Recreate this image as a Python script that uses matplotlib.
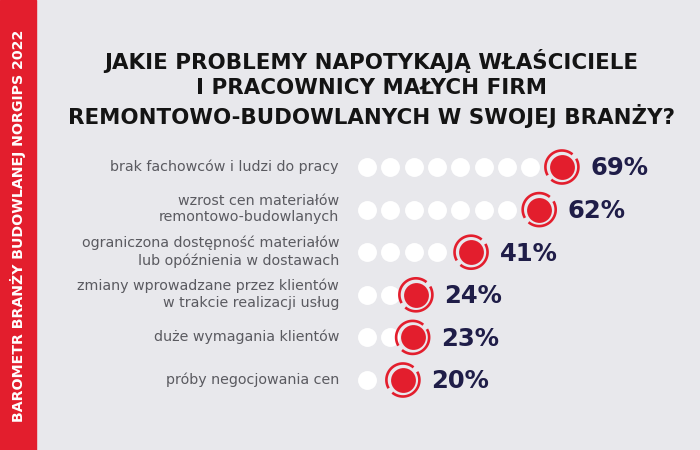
import numpy as np
import matplotlib.pyplot as plt
from matplotlib.patches import Rectangle

# ---------------------------------------------------------------------------
# Data
# ---------------------------------------------------------------------------

TITLE_LINES = [
    "JAKIE PROBLEMY NAPOTYKAJĄ WŁAŚCICIELE",
    "I PRACOWNICY MAŁYCH FIRM",
    "REMONTOWO-BUDOWLANYCH W SWOJEJ BRANŻY?",
]
SIDEBAR = "BAROMETR BRANŻY BUDOWLANEJ NORGIPS 2022"

labels = [
    "brak fachowców i ludzi do pracy",
    "wzrost cen materiałów\nremontowo-budowlanych",
    "ograniczona dostępność materiałów\nlub opóźnienia w dostawach",
    "zmiany wprowadzane przez klientów\nw trakcie realizacji usług",
    "duże wymagania klientów",
    "próby negocjowania cen",
]
values = [69, 62, 41, 24, 23, 20]
white_dots = [8, 7, 4, 2, 2, 1]

# ---------------------------------------------------------------------------
# Style
# ---------------------------------------------------------------------------

BG = "#e8e8ec"
RED = "#e31e2d"
NAVY = "#1f1d48"
GREY = "#5a5a60"

W, H = 700, 450
PX_PER_PCT = 3.245       # horizontal scale of the dot track
ROW_PX = 42.6            # vertical spacing between rows
FIRST_ROW_PX = 167
TRACK_LEFT_PX = 338      # pixel where 0 % sits
DOT_STEP = 7.2           # white dot spacing, in % units
RING_R = 16.5            # ring radius, px
# ring drawn as two arcs, gaps at upper right and lower left (screen degrees, ccw)
RING_SEGMENTS = [(50, 210), (230, 390)]

fig = plt.figure(figsize=(7, 4.5), dpi=100)
fig.patch.set_facecolor(BG)

# full-figure pixel axes for background, title and labels
ax = fig.add_axes([0, 0, 1, 1])
ax.set_xlim(0, W)
ax.set_ylim(H, 0)
ax.axis("off")

ax.add_patch(Rectangle((0, 0), 36, H, color=RED, zorder=1))
ax.text(18, 226, SIDEBAR, rotation=90, ha="center", va="center",
        color="white", fontsize=10.2, fontweight="bold", family="DejaVu Sans")

for k, line in enumerate(TITLE_LINES):
    ax.text(371, 61 + 27.5 * k, line, ha="center", va="center", color="#141414",
            fontsize=15.4, fontweight="bold", family="DejaVu Sans")

for i, lab in enumerate(labels):
    ax.text(339, FIRST_ROW_PX + i * ROW_PX - 0.5, lab, ha="right", va="center",
            color=GREY, fontsize=10.3, linespacing=1.25, family="DejaVu Sans")

# dot track axes: x in percent, y in row index
dax = fig.add_axes([TRACK_LEFT_PX / W, 0, 1 - TRACK_LEFT_PX / W, 1])
dax.set_xlim(0, (W - TRACK_LEFT_PX) / PX_PER_PCT)
dax.set_ylim((H - FIRST_ROW_PX) / ROW_PX, -FIRST_ROW_PX / ROW_PX)
dax.axis("off")

for i, (v, n) in enumerate(zip(values, white_dots)):
    xs = 8.9 + DOT_STEP * np.arange(n)
    dax.scatter(xs, np.full(n, i), s=185, color="white", linewidths=0, zorder=2)
    dax.scatter([v], [i], s=320, color=RED, linewidths=0, zorder=3)
    for s0, s1 in RING_SEGMENTS:
        t = np.deg2rad(np.linspace(s0, s1, 60))
        dax.plot(v + RING_R * np.cos(t) / PX_PER_PCT,
                 i - RING_R * np.sin(t) / ROW_PX,
                 color=RED, lw=1.9, zorder=3, solid_capstyle="butt")
    dax.annotate(f"{v}%", (v, i), xytext=(20.5, -1), textcoords="offset points",
                 ha="left", va="center", color=NAVY, fontsize=17.5,
                 fontweight="bold", family="DejaVu Sans")

fig.savefig("out.png", dpi=100, facecolor=BG)
